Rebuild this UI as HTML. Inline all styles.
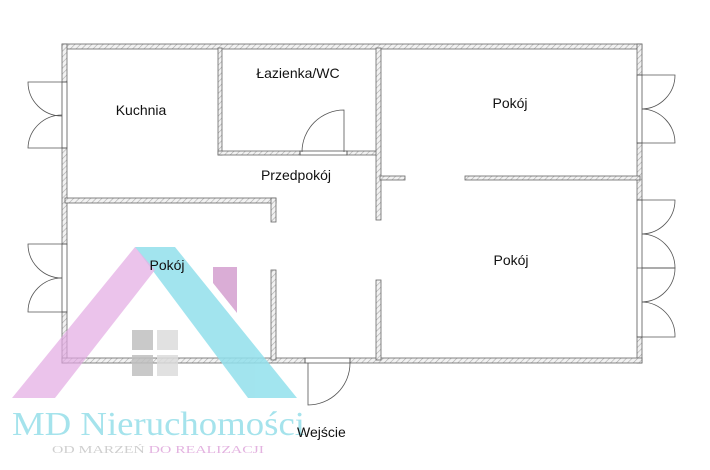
<!DOCTYPE html>
<html><head><meta charset="utf-8"><style>
html,body{margin:0;padding:0;background:#fff;width:710px;height:470px;overflow:hidden}
svg{display:block}
text{font-family:"Liberation Sans","DejaVu Sans",sans-serif;fill:#111}
</style></head><body>
<svg width="710" height="470" viewBox="0 0 710 470" xmlns="http://www.w3.org/2000/svg">
<defs>
<pattern id="h" width="4" height="4" patternUnits="userSpaceOnUse" patternTransform="rotate(45)">
<rect width="4" height="4" fill="#f2f2f2"/><line x1="0" y1="0" x2="0" y2="4" stroke="#aaa" stroke-width="1.2"/>
</pattern>
</defs>
<g fill="url(#h)" stroke="#666" stroke-width="0.8">
<rect x="62" y="44" width="580" height="5"/>
<rect x="62" y="44" width="5" height="38"/>
<rect x="62" y="148" width="5" height="96"/>
<rect x="62" y="312" width="5" height="51"/>
<rect x="637" y="44" width="5" height="31"/>
<rect x="637" y="143" width="5" height="57"/>
<rect x="637" y="337" width="5" height="26"/>
<rect x="62" y="358" width="243" height="5"/>
<rect x="350" y="358" width="292" height="5"/>
<rect x="218" y="48" width="4" height="107"/>
<rect x="218" y="151" width="82" height="4"/>
<rect x="347" y="151" width="33" height="4"/>
<rect x="376" y="48" width="5" height="172"/>
<rect x="376" y="280" width="5" height="80"/>
<rect x="380" y="176" width="25" height="4"/>
<rect x="465" y="176" width="175" height="4"/>
<rect x="65" y="198" width="211" height="5"/>
<rect x="271" y="198" width="5" height="24"/>
<rect x="271" y="270" width="5" height="90"/>
</g>
<g fill="none" stroke="#555" stroke-width="0.8">
<rect x="62" y="82" width="5" height="66"/>
<rect x="62" y="244" width="5" height="68"/>
<rect x="637" y="75" width="5" height="68"/>
<rect x="637" y="200" width="5" height="137"/>
<line x1="637" y1="268" x2="675" y2="268"/>
<path d="M62 82 H28 A34 34 0 0 0 62 116"/>
<path d="M62 148 H28 A34 34 0 0 1 62 115"/>
<path d="M62 244 H28 A34 34 0 0 0 62 278"/>
<path d="M62 312 H28 A34 34 0 0 1 62 278"/>
<path d="M642 75 H675 A34 34 0 0 1 642 109"/>
<path d="M642 143 H675 A34 34 0 0 0 642 109"/>
<path d="M642 200 H675 A34 34 0 0 1 642 234"/>
<path d="M642 268 H675 A34 34 0 0 0 642 234"/>
<path d="M642 268 H675 A34 34 0 0 1 642 302"/>
<path d="M642 337 H675 A34 34 0 0 0 642 302"/>
<rect x="300" y="151" width="47" height="4"/>
<path d="M344 152 V110 A42 42 0 0 0 302 152"/>
<rect x="305" y="358" width="45" height="5"/>
<path d="M308 363 V405 A42 42 0 0 0 350 363"/>
</g>
<text x="141" y="115" font-size="14" text-anchor="middle">Kuchnia</text>
<text x="298" y="78" font-size="14" text-anchor="middle">Łazienka/WC</text>
<text x="296" y="180" font-size="14" text-anchor="middle">Przedpokój</text>
<text x="510" y="108" font-size="14" text-anchor="middle">Pokój</text>
<text x="511" y="265" font-size="14" text-anchor="middle">Pokój</text>
<g opacity="0.85">
<polygon points="135,247 175,247 297,398 248,398" fill="#92e0ec"/>
<polygon points="12,398 55,398 155,270 135,247" fill="#e2a8e2" opacity="0.8"/>
<polygon points="213,267 237,267 237,313 213,283" fill="#d49fcf"/>
<rect x="132" y="330" width="21" height="20" fill="#c0c0c0"/>
<rect x="157" y="330" width="21" height="20" fill="#dcdcdc"/>
<rect x="132" y="355" width="21" height="21" fill="#c0c0c0"/>
<rect x="157" y="355" width="21" height="21" fill="#dcdcdc"/>
</g>
<text x="167" y="270" font-size="14" text-anchor="middle">Pokój</text>
<text x="12" y="435" font-size="34" textLength="293" lengthAdjust="spacingAndGlyphs" style="font-family:'Liberation Serif',serif;fill:#a5e3ec">MD Nieruchomości</text>
<text x="52" y="453" font-size="11" textLength="212" lengthAdjust="spacingAndGlyphs" style="font-family:'Liberation Serif',serif;fill:#cfcfcf">OD MARZEŃ <tspan style="fill:#e3b3e0">DO REALIZACJI</tspan></text>
<text x="297" y="437" font-size="14">Wejście</text>
</svg>
</body></html>
